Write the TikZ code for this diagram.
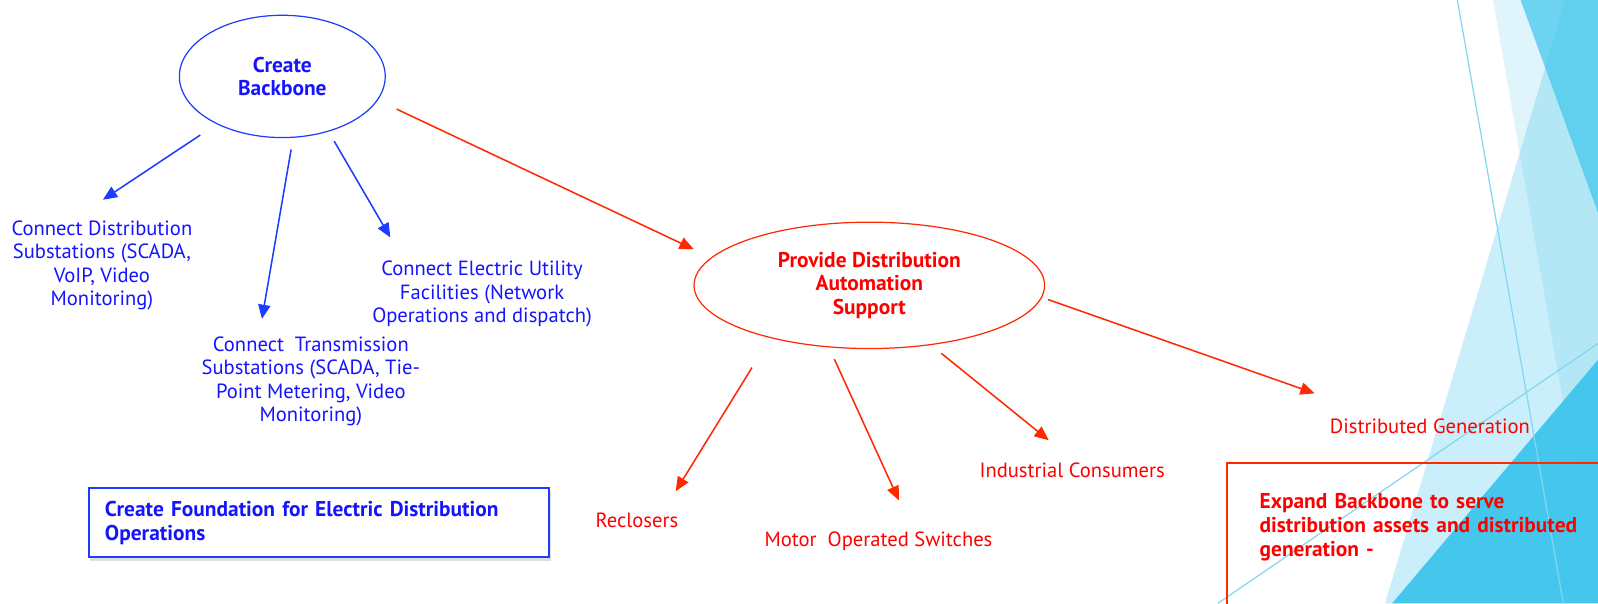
\documentclass[tikz,border=0pt]{standalone}
\usepackage{fontspec}
\setmainfont{PT Sans}
\usetikzlibrary{shapes.geometric,arrows.meta,shadows}
\definecolor{btext}{RGB}{20,20,255}
\definecolor{bline}{RGB}{30,60,255}
\definecolor{rtext}{RGB}{255,0,0}
\definecolor{rline}{RGB}{255,40,0}
\definecolor{facet}{RGB}{62,197,236}
\definecolor{facetlt}{RGB}{224,244,251}
\definecolor{facetln}{RGB}{130,214,240}
\begin{document}
\begin{tikzpicture}[x=0.5pt,y=-0.5pt,
    lbl/.style={font=\fontsize{10.1}{11.5}\selectfont,align=center,inner sep=0pt,anchor=north},
    goal/.style={ellipse,line width=0.6pt,align=center,font=\bfseries\fontsize{10.5}{11.5}\selectfont},
    barrow/.style={draw=bline,line width=0.75pt,-{Triangle[length=7pt,width=6pt]}},
    rarrow/.style={draw=rline,line width=0.75pt,-{Triangle[length=7pt,width=6pt]}}]
    \useasboundingbox (0,0) rectangle (1568,592);
    \clip (0,0) rectangle (1568,592);
    % background
    \fill[facetlt] (1465,0) -- (1568,0) -- (1568,592) -- cycle;
    \fill[facet,opacity=0.27] (1536,0) -- (1568,0) -- (1568,592) -- (1359,592) -- cycle;
    \fill[facet,opacity=0.7] (1492,0) -- (1568,0) -- (1568,209) -- cycle;
    \fill[facet,opacity=0.95] (1568,353) -- (1568,592) -- (1366,592) -- cycle;
    \draw[facetln,line width=0.6pt] (1430,0) -- (1534,592);
    \draw[facetln,line width=0.6pt] (1195,592) -- (1568,337);

    \node(cb)[goal,draw=bline,text=btext,minimum width=101pt,minimum height=60pt] at (277,75){Create\\Backbone};
    \node(da)[goal,draw=rline,text=rtext,minimum width=172pt,minimum height=62pt] at (853,280){Provide Distribution\\Automation\\Support};

    \node(ds)[lbl,text=btext] at (100,216){Connect Distribution\\Substations (SCADA,\\VoIP, Video\\Monitoring)};
    \node(ts)[lbl,text=btext] at (305,330){Connect\ \ Transmission\\Substations (SCADA, Tie-\\Point Metering, Video\\Monitoring)};
    \node(eu)[lbl,text=btext] at (473,256){Connect Electric Utility\\Facilities (Network\\Operations and dispatch)};
    \node(rc)[lbl,text=rtext] at (625,503){Reclosers};
    \node(mo)[lbl,text=rtext] at (862,521){Motor\ \ Operated Switches};
    \node(ic)[lbl,text=rtext] at (1052,454){Industrial Consumers};
    \node(dg)[lbl,text=rtext] at (1403,411){Distributed Generation};

    \node(fb)[draw=bline,line width=1pt,fill=white,anchor=north west,text width=210pt,inner xsep=8pt,minimum height=34pt,align=left,text=btext,font=\bfseries\fontsize{10.5}{12}\selectfont,drop shadow={opacity=0.25,shadow xshift=0.8pt,shadow yshift=-1.5pt}] at (86,478){Create Foundation for Electric Distribution\\Operations};
    \node(eb)[draw=rline,line width=1pt,anchor=north west,text width=200pt,inner xsep=16pt,inner ysep=15pt,text depth=60pt,align=left,text=rtext,font=\bfseries\fontsize{10.5}{11.8}\selectfont] at (1203,453){Expand Backbone to serve\\distribution assets and distributed\\generation -};

    \draw[barrow,shorten <=9.6pt] (cb.216) -- ([shift={(1,-20)}]ds.north);
    \draw[barrow,shorten <=5.8pt] (cb.280) -- ([shift={(-48,-17)}]ts.north);
    \draw[barrow,shorten <=5.4pt] (cb.310) -- ([shift={(-90,-23)}]eu.north);
    \draw[rarrow,shorten <=10.2pt,shorten >=9.4pt] (cb.346) -- (da.170);
    \draw[rarrow,shorten <=17pt] (da.208) -- ([shift={(38,-21)}]rc.north);
    \draw[rarrow,shorten <=6.3pt] (da.237) -- ([shift={(20,-30)}]mo.north);
    \draw[rarrow,shorten <=6.4pt] (da.316) -- ([shift={(-23,-22)}]ic.north);
    \draw[rarrow,shorten <=3.2pt] (da.356) -- ([shift={(-113,-25)}]dg.north);
\end{tikzpicture}
\end{document}
